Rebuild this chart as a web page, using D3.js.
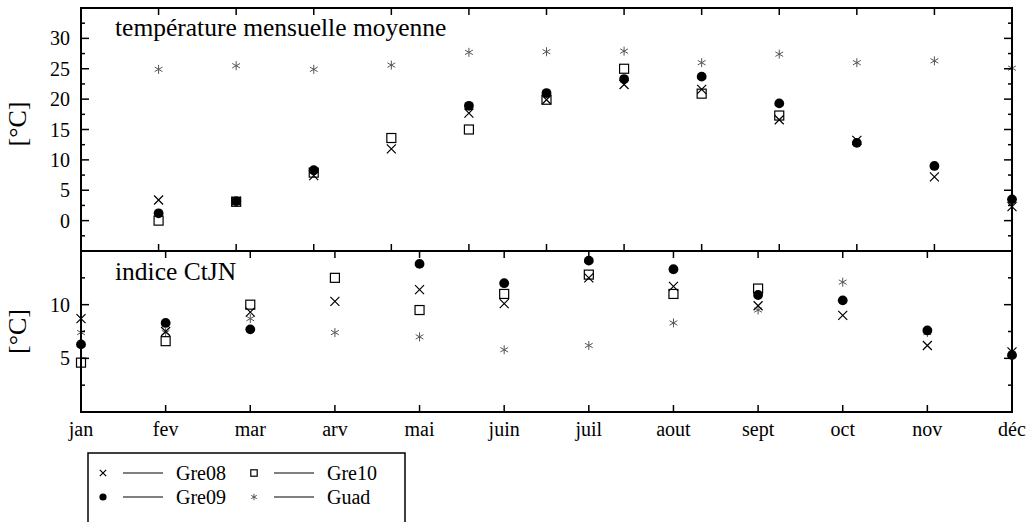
<!DOCTYPE html>
<html><head><meta charset="utf-8">
<script src="https://cdn.jsdelivr.net/npm/d3@7"></script>
<style>
body{margin:0;background:#fff}
svg text{font-family:"Liberation Serif","Times New Roman",serif;fill:#000}
</style>
</head><body>
<svg id="c" width="1026" height="522"></svg>
<script>
// ---- data ----
const months = ["jan","fev","mar","arv","mai","juin","juil","aout","sept","oct","nov","déc"];
const topTitle = "température mensuelle moyenne";
const botTitle = "indice CtJN";
const yLabelText = "[°C]";
const seriesNames = ["Gre08","Gre09","Gre10","Guad"];

// Top panel: mean monthly temperature
const gre08Top = [3.4, 3.2, 7.4, 11.8, 17.7, 19.9, 22.4, 21.6, 16.6, 13.2, 7.2, 2.3];
const gre09Top = [1.2, 3.2, 8.3, null, 18.9, 21.0, 23.3, 23.7, 19.3, 12.8, 9.0, 3.5];
const gre10Top = [0.0, 3.1, 7.9, 13.6, 15.0, 19.9, 25.0, 20.9, 17.3, null, null, null];
const guadTop  = [24.9, 25.5, 24.9, 25.6, 27.7, 27.8, 27.9, 26.0, 27.4, 26.0, 26.3, 25.1];

// Bottom panel: CtJN index
const gre08Bot = [8.7, 7.5, 9.3, 10.3, 11.4, 10.1, 12.5, 11.7, 9.9, 9.0, 6.2, 5.6];
const gre09Bot = [6.3, 8.3, 7.7, null, 13.8, 12.0, 14.1, 13.3, 10.9, 10.4, 7.6, 5.3];
const gre10Bot = [4.6, 6.6, 10.0, 12.5, 9.5, 11.0, 12.8, 11.0, 11.5, null, null, null];
const guadBot  = [7.4, 7.4, 8.7, 7.4, 7.0, 5.8, 6.2, 8.3, 9.5, 12.1, 7.4, 5.4];

const yTopLabels = [0, 5, 10, 15, 20, 25, 30];
const yTopMinor  = [-2.5, 2.5, 7.5, 12.5, 17.5, 22.5, 27.5, 32.5];
const yBotLabels = [5, 10];
const yBotMinor  = [2.5, 7.5, 12.5];

// ---- layout ----
const FONT = "'Liberation Serif','Times New Roman',serif";
const svg = d3.select("#c");
const L = 81, R = 1012, T1 = 8, B1 = 251, B2 = 412;
const xTop = d3.scaleLinear().domain([0, 12]).range([L, R]);
const xBot = d3.scaleLinear().domain([0, 11]).range([L, R]);
const yTop = d3.scaleLinear().domain([-5, 35]).range([B1, T1]);
const yBot = d3.scaleLinear().domain([0, 15]).range([B2, B1]);
const GRAY = "#555";

const topSeries = {Gre08: gre08Top, Gre09: gre09Top, Gre10: gre10Top, Guad: guadTop};
const botSeries = {Gre08: gre08Bot, Gre09: gre09Bot, Gre10: gre10Bot, Guad: guadBot};
const markerOf = {Gre08: "cross", Gre09: "circle", Gre10: "square", Guad: "star"};
const drawOrder = ["Guad", "Gre08", "Gre10", "Gre09"];

function marker(g, type, x, y, s) {
  if (type === "cross") {
    g.append("path").attr("d", `M${x-s},${y-s}L${x+s},${y+s}M${x-s},${y+s}L${x+s},${y-s}`)
      .attr("stroke", "#000").attr("stroke-width", 1.2).attr("fill", "none");
  } else if (type === "circle") {
    g.append("circle").attr("cx", x).attr("cy", y).attr("r", s + 0.4).attr("fill", "#000");
  } else if (type === "square") {
    g.append("rect").attr("x", x - s).attr("y", y - s).attr("width", 2 * s).attr("height", 2 * s)
      .attr("fill", "none").attr("stroke", "#000").attr("stroke-width", 1.2);
  } else {
    const a = s, b = s * 0.866, c = s * 0.5;
    g.append("path").attr("d", `M${x},${y-a}L${x},${y+a}M${x-b},${y-c}L${x+b},${y+c}M${x-b},${y+c}L${x+b},${y-c}`)
      .attr("stroke", GRAY).attr("stroke-width", 1).attr("fill", "none");
  }
}

// ---- points ----
const pts = svg.append("g");
drawOrder.forEach(name => {
  topSeries[name].forEach((v, i) => {
    if (v == null) return;
    marker(pts, markerOf[name], xTop(i + 1), yTop(v), 4.5);
  });
  botSeries[name].forEach((v, i) => {
    if (v == null) return;
    marker(pts, markerOf[name], xBot(i), yBot(v), 4.5);
  });
});

// ---- frames ----
const frame = svg.append("g").attr("fill", "none").attr("stroke", "#000");
frame.append("rect").attr("x", L).attr("y", T1).attr("width", R - L).attr("height", B1 - T1).attr("stroke-width", 2);
frame.append("rect").attr("x", L).attr("y", B1).attr("width", R - L).attr("height", B2 - B1).attr("stroke-width", 2);

const tk = svg.append("g").attr("stroke", "#000").attr("stroke-width", 1.5);
function hTick(y, len) {
  tk.append("line").attr("x1", L).attr("x2", L + len).attr("y1", y).attr("y2", y);
  tk.append("line").attr("x1", R).attr("x2", R - len).attr("y1", y).attr("y2", y);
}
yTopLabels.forEach(v => hTick(yTop(v), 8));
yTopMinor.forEach(v => hTick(yTop(v), 4));
yBotLabels.forEach(v => hTick(yBot(v), 8));
yBotMinor.forEach(v => hTick(yBot(v), 4));

// x ticks
d3.range(1, 12).forEach(i => {
  const x = xTop(i);
  tk.append("line").attr("x1", x).attr("x2", x).attr("y1", T1).attr("y2", T1 + 7);
  tk.append("line").attr("x1", x).attr("x2", x).attr("y1", B1).attr("y2", B1 - 7);
});
months.forEach((m, i) => {
  const x = xBot(i);
  tk.append("line").attr("x1", x).attr("x2", x).attr("y1", B1).attr("y2", B1 + 7);
  tk.append("line").attr("x1", x).attr("x2", x).attr("y1", B2).attr("y2", B2 - 7);
});

// ---- labels ----
const lab = svg.append("g").attr("font-family", FONT);
yTopLabels.forEach(v => lab.append("text").attr("x", 70).attr("y", yTop(v)).attr("dy", "0.35em")
  .attr("text-anchor", "end").attr("font-size", 20).text(v));
yBotLabels.forEach(v => lab.append("text").attr("x", 70).attr("y", yBot(v)).attr("dy", "0.35em")
  .attr("text-anchor", "end").attr("font-size", 20).text(v));
months.forEach((m, i) => lab.append("text").attr("x", xBot(i)).attr("y", 436)
  .attr("text-anchor", "middle").attr("font-size", 20).text(m));

lab.append("text").attr("x", 115).attr("y", 36).attr("font-size", 25.5).text(topTitle);
lab.append("text").attr("x", 115).attr("y", 280).attr("font-size", 25.5).text(botTitle);

[124, (B1 + B2) / 2].forEach(cy => {
  lab.append("text").attr("transform", `translate(26,${cy}) rotate(-90)`)
    .attr("text-anchor", "middle").attr("font-size", 26).text(yLabelText);
});

// ---- legend ----
const lg = svg.append("g").attr("font-family", FONT);
lg.append("rect").attr("x", 88).attr("y", 453).attr("width", 317).attr("height", 100)
  .attr("fill", "#fff").attr("stroke", "#000").attr("stroke-width", 1.5);
const legendPos = {Gre08: [103, 473], Gre09: [103, 497], Gre10: [254, 473], Guad: [254, 497]};
seriesNames.forEach(name => {
  const [x, y] = legendPos[name];
  marker(lg, markerOf[name], x, y, 3.2);
  lg.append("line").attr("x1", x + 20).attr("x2", x + 60).attr("y1", y).attr("y2", y)
    .attr("stroke", "#000").attr("stroke-width", 1);
  lg.append("text").attr("x", x + 73).attr("y", y + 7).attr("font-family", FONT)
    .attr("font-size", 20).text(name);
});
</script>
</body></html>
